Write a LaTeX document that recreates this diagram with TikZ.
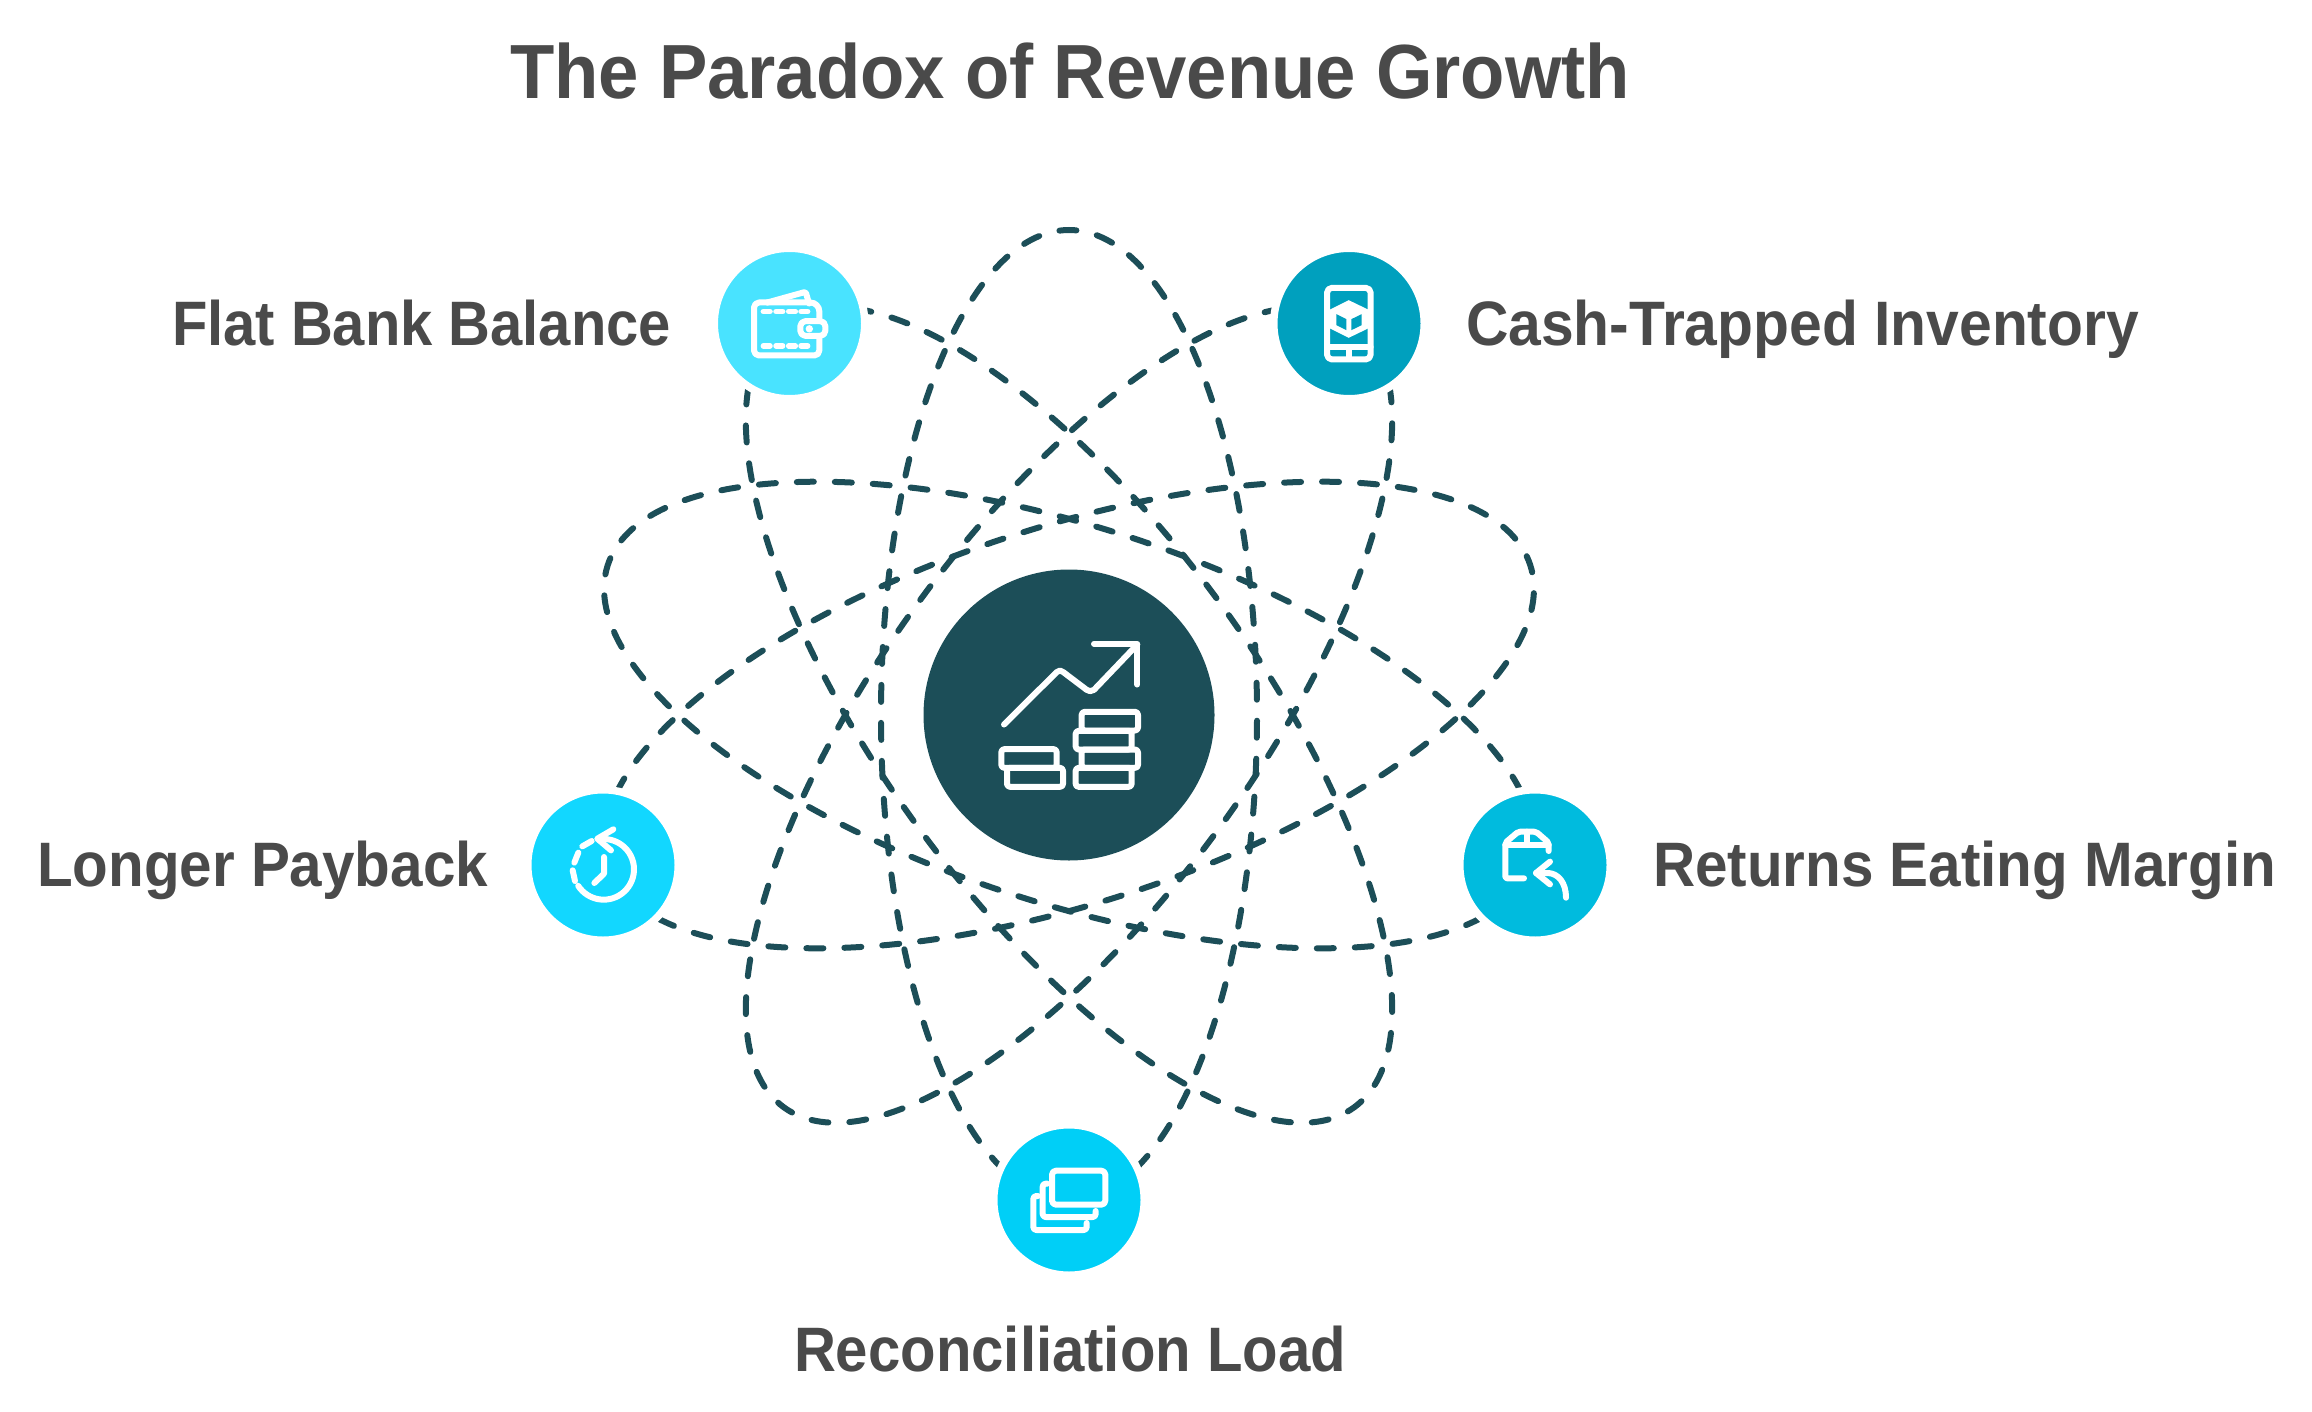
\documentclass[tikz,border=0pt]{standalone}
\usepackage{fontspec}
\usepackage{graphicx}
\setmainfont{Liberation Sans}
\definecolor{tealdark}{HTML}{1C4E58}
\definecolor{txtgray}{HTML}{4A4A4A}
\definecolor{cwallet}{HTML}{49E3FF}
\definecolor{cphone}{HTML}{00A0BE}
\definecolor{cclock}{HTML}{12D7FF}
\definecolor{creturn}{HTML}{00BBDE}
\definecolor{crecon}{HTML}{00CFF7}
\newcommand{\fitlabel}[2]{\resizebox{#1pt}{\height}{#2}}
\tikzset{
  orbit/.style={draw=tealdark,line width=6pt,line cap=round,dash pattern=on 17pt off 21pt},
  sat/.style={circle,fill=#1,draw=white,line width=7.5pt,minimum size=150.5pt,inner sep=0pt,outer sep=0pt},
  hub/.style={circle,fill=tealdark,minimum size=291pt,inner sep=0pt,outer sep=0pt},
  iconat/.style 2 args={shift={(#1,#2)},x=0.33333pt,y=-0.33333pt},
  iconline/.style={draw=white,line width=6pt,line cap=round,line join=round},
  caption/.style={anchor=base west,inner sep=0pt,outer sep=0pt,text=txtgray,font=\fontsize{62.8}{70}\selectfont\bfseries},
  headline/.style={anchor=base west,inner sep=0pt,outer sep=0pt,text=txtgray,font=\fontsize{76.8}{84}\selectfont\bfseries},
}
\begin{document}
\begin{tikzpicture}[x=1pt,y=-1pt]
\useasboundingbox (0,0) rectangle (2312,1412);
\coordinate (c) at (1069,715);
% orbits: each begins at the end hidden by its satellite
\foreach \k in {0,1,2,3,4}{
  \draw[orbit,rotate around={-90+72*\k:(c)}] (c) ellipse [x radius=485pt,y radius=188pt];
}
% hub and satellites
\node[hub] (hubnode) at (c) {};
\node[sat=cwallet] (wallet) at (789.5,323.5) {};
\node[sat=cphone] (phone) at (1349,323.5) {};
\node[sat=cclock] (clock) at (603,865) {};
\node[sat=creturn] (returns) at (1535,865) {};
\node[sat=crecon] (recon) at (1069,1200) {};
% hub icon
\begin{scope}[iconat={900}{550.5}]
  \draw[iconline] (312,522) -- (470,365) -- (480,360) -- (490,365) -- (560,418) -- (570,422) -- (582,418) -- (712,282);
  \draw[iconline] (582,280) -- (712,280) -- (712,402);
  \draw[iconline,rounded corners=3pt] (304,596) rectangle (470,652);
  \draw[iconline,rounded corners=3pt] (321,652) rectangle (489,709);
  \draw[iconline,rounded corners=3pt] (545,484) rectangle (714,540);
  \draw[iconline,rounded corners=3pt] (527,541) rectangle (695,597);
  \draw[iconline,rounded corners=3pt] (545,597) rectangle (714,652);
  \draw[iconline,rounded corners=3pt] (527,652) rectangle (695,709);
\end{scope}
% wallet icon
\begin{scope}[iconat={690}{223.5}]
  \draw[iconline,rounded corners=5pt] (232,237) -- (192,237) -- (192,396) -- (388,396) -- (388,345);
  \draw[iconline,rounded corners=9pt] (232,237) -- (388,237) -- (388,290);
  \draw[iconline,rounded corners=2pt] (232,237) -- (347,205) -- (357,240);
  \draw[iconline,rounded corners=5pt] (331,293) rectangle (406,337);
  \fill[white] (358,316) circle [radius=3.7pt];
  \foreach \y in {264,367}{
    \foreach \a in {220,258,296,333}{
      \draw[white,line width=5.5pt,line cap=round] (\a,\y) -- (\a+20,\y);
    }
  }
\end{scope}
% phone icon
\begin{scope}[iconat={1252}{223.5}]
  \draw[iconline,rounded corners=5pt] (225,193) rectangle (356,408);
  \draw[iconline] (225,371) -- (356,371);
  \draw[iconline] (292,380) -- (292,400);
  \fill[white] (290,230) -- (348,258) -- (348,315) -- (290,343) -- (234,315) -- (234,258) -- cycle;
  \fill[cphone] (253,272) -- (283,287) -- (283,320) -- (253,305) -- cycle;
  \fill[cphone] (298,287) -- (329,272) -- (329,305) -- (298,320) -- cycle;
\end{scope}
% clock icon
\begin{scope}[iconat={510}{771}]
  \draw[iconline] plot[domain=-95:147,samples=40,smooth] ({281+91*cos(\x)},{295+91*sin(\x)});
  \draw[iconline] (310,175) -- (262,203) -- (303,238);
  \draw[iconline] (217,226) -- (245,210);
  \draw[iconline] (193,275) -- (205,245);
  \draw[iconline] (188,298) -- (195,330);
  \draw[iconline] (282,258) -- (282,308) -- (253,336);
\end{scope}
% returns icon
\begin{scope}[iconat={1450}{771}]
  \draw[iconline,rounded corners=2pt] (296,240) -- (296,215) -- (258,182) -- (205,182) -- (166,215) -- (166,322) -- (222,322);
  \draw[iconline] (166,222) -- (296,222);
  \draw[iconline] (230,182) -- (230,222);
  \draw[iconline] (300,272) -- (258,306) -- (300,340);
  \draw[iconline] (258,306) -- (295,306) .. controls (325,308) and (348,335) .. (348,380);
\end{scope}
% reconciliation icon
\begin{scope}[iconat={980}{1111}]
  \draw[iconline,rounded corners=4pt] (216,179) rectangle (376,281);
  \draw[iconline,rounded corners=3pt] (202,218) -- (188,218) -- (188,318) -- (347,318) -- (347,300);
  \draw[iconline,rounded corners=3pt] (174,255) -- (160,255) -- (160,357) -- (320,357) -- (320,336);
\end{scope}
% texts
\node[headline] (title) at (510,99) {\fitlabel{1120}{The Paradox of Revenue Growth}};
\node[caption] (lwallet) at (172,346) {\fitlabel{499}{Flat Bank Balance}};
\node[caption] (lphone) at (1466,346) {\fitlabel{673}{Cash-Trapped Inventory}};
\node[caption] (lclock) at (37,886) {\fitlabel{451}{Longer Payback}};
\node[caption] (lreturn) at (1653,886) {\fitlabel{623}{Returns Eating Margin}};
\node[caption] (lrecon) at (794,1371) {\fitlabel{552}{Reconciliation Load}};
\end{tikzpicture}
\end{document}
